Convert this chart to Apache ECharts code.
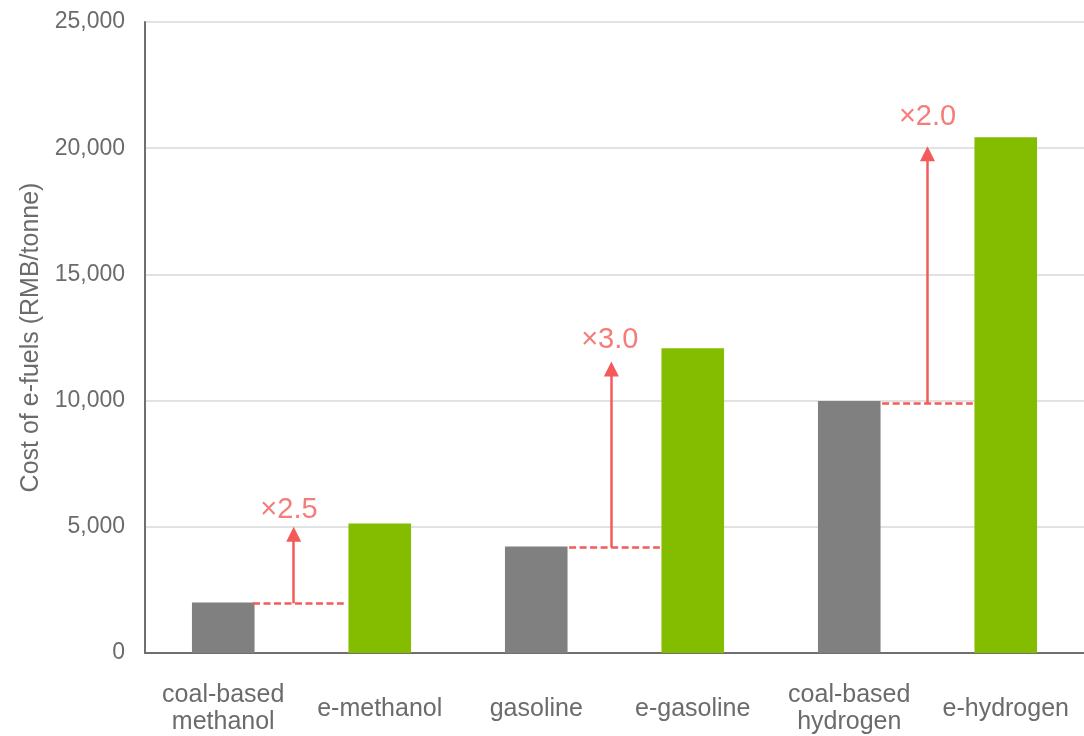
<!DOCTYPE html>
<html>
<head>
<meta charset="utf-8">
<script src="https://cdn.jsdelivr.net/npm/echarts@6/dist/echarts.min.js"></script>
<style>html,body{margin:0;padding:0;background:#fff}#c{width:1084px;height:736px}</style>
</head>
<body>
<div id="c"></div>
<script>
const categories = ['coal-based\nmethanol', 'e-methanol', 'gasoline', 'e-gasoline', 'coal-based\nhydrogen', 'e-hydrogen'];
const costs = [2000, 5130, 4220, 12070, 9980, 20430];
const isEFuel = [false, true, false, true, false, true];
const yTicks = { min: 0, max: 25000, interval: 5000 };

// annotation values (category-index units on x, RMB/tonne on y)
const baseLevels = [1970, 4180, 9900];
const dashStart = [0.19, 2.21, 4.21];
const dashEnd = [0.77, 2.79, 4.79];
const arrowX = [0.45, 2.48, 4.5];
const arrowTop = [4700, 11250, 19780];
const ratioLabels = ['×2.5', '×3.0', '×2.0'];
const ratioLabelX = [0.42, 2.47, 4.5];
const ratioLabelY = [5680, 12420, 21220];

const GRAY = '#808080', GREEN = '#84bc00', RED = '#f45a5a', TXT = '#6b6b6b';
const FONT = 'Liberation Sans, Arial, sans-serif';

const dashData = baseLevels.map((v, i) => [{ coord: [dashStart[i], v] }, { coord: [dashEnd[i], v] }]);
const arrowData = baseLevels.map((v, i) => [{ coord: [arrowX[i], v] }, { coord: [arrowX[i], arrowTop[i]] }]);

const chart = echarts.init(document.getElementById('c'), null, { renderer: 'canvas' });
chart.setOption({
  animation: false,
  grid: { left: 145, right: 0, top: 22, bottom: 80, containLabel: false },
  xAxis: [
    {
      type: 'category', data: categories,
      axisLine: { lineStyle: { color: '#6f6f6f', width: 2 } },
      axisTick: { show: false },
      axisLabel: { color: TXT, fontSize: 25, fontFamily: FONT, lineHeight: 27, margin: 56, verticalAlign: 'middle', interval: 0 }
    },
    { type: 'value', min: -0.5, max: 5.5, show: false }
  ],
  yAxis: {
    type: 'value', min: yTicks.min, max: yTicks.max, interval: yTicks.interval,
    name: 'Cost of e-fuels (RMB/tonne)', nameLocation: 'middle', nameGap: 94, nameRotate: 90,
    nameTextStyle: { color: TXT, fontSize: 25, fontFamily: FONT },
    axisLine: { show: true, onZero: false, lineStyle: { color: '#6f6f6f', width: 2 } },
    axisTick: { show: false },
    axisLabel: { color: TXT, fontSize: 23, fontFamily: FONT, margin: 20, formatter: v => v.toLocaleString('en-US') },
    splitLine: { lineStyle: { color: '#d9d9d9', width: 1.5 } }
  },
  series: [
    {
      type: 'bar', barWidth: '40%',
      data: costs.map((v, i) => ({ value: v, itemStyle: { color: isEFuel[i] ? GREEN : GRAY } }))
    },
    {
      type: 'scatter', xAxisIndex: 1, symbolSize: 0, silent: true,
      data: ratioLabels.map((t, i) => ({ value: [ratioLabelX[i], ratioLabelY[i]], name: t })),
      label: { show: true, position: 'inside', formatter: p => p.name, color: RED, fontSize: 29, fontFamily: FONT },
      markLine: {
        silent: true, animation: false,
        label: { show: false },
        symbol: ['none', 'none'],
        lineStyle: { color: RED, type: [7, 3.5], width: 2.5 },
        data: dashData
      }
    },
    {
      type: 'scatter', xAxisIndex: 1, symbolSize: 0, silent: true, data: [],
      markLine: {
        silent: true, animation: false,
        label: { show: false },
        symbol: ['none', 'triangle'], symbolSize: [15, 15],
        lineStyle: { color: RED, type: 'solid', width: 2.5 },
        data: arrowData
      }
    }
  ]
});
</script>
</body>
</html>
